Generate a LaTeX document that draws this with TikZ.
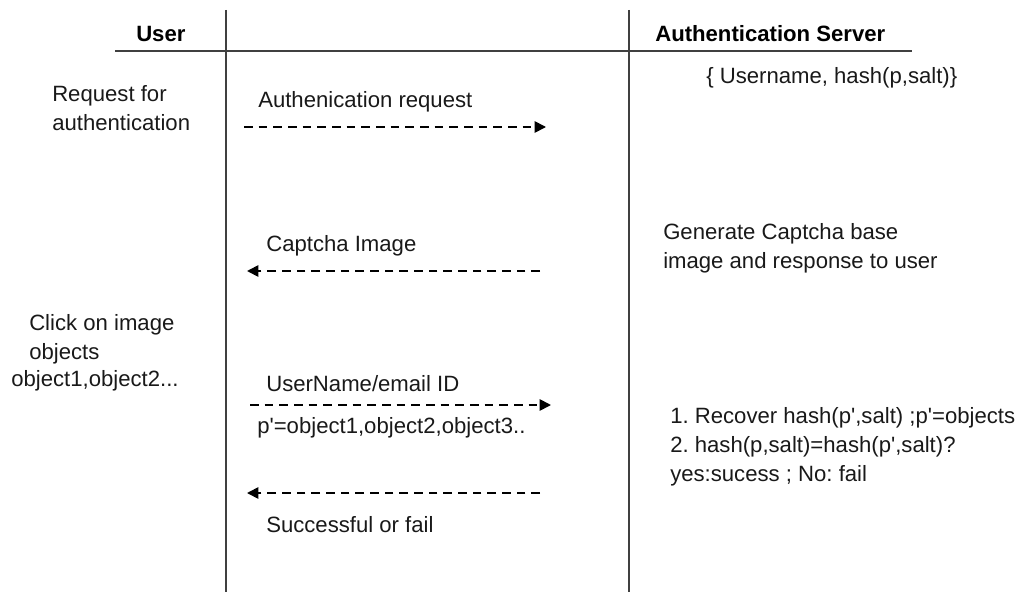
\documentclass[tikz,border=0pt]{standalone}
\usepackage{fontspec}
\setmainfont{Liberation Sans}[Ligatures=TeXOff]
\usetikzlibrary{arrows.meta}
\frenchspacing
\tikzset{
  txt/.style={anchor=base west, inner sep=0pt, font=\fontsize{16.6}{21.9}\selectfont, text=black!90},
  hdr/.style={anchor=base west, inner sep=0pt, font=\fontsize{16.6}{21.9}\selectfont\bfseries, text=black},
  lane/.style={draw=black!75, line width=1.2pt},
  msg/.style={draw=black, line width=1.3pt, dash pattern=on 6.5pt off 4.5pt, -{Triangle[length=8.5pt,width=8.5pt]}},
}
\begin{document}
\begin{tikzpicture}[x=0.75pt,y=-0.75pt]
\useasboundingbox (0,0) rectangle (1020,592);
% lanes
\coordinate (l1t) at (226,10); \coordinate (l1b) at (226,592);
\coordinate (l2t) at (629,10); \coordinate (l2b) at (629,592);
\coordinate (hl) at (115,51); \coordinate (hr) at (912,51);
\draw[lane] (l1t) -- (l1b);
\draw[lane] (l2t) -- (l2b);
\draw[lane, line width=1.5pt] (hl) -- (hr);
% headers
\node[hdr] (user) at (136,42) {User};
\node[hdr] (srv) at (655,42) {Authentication Server};
\node[txt] (db) at (706,84) {\{ Username, hash(p,salt)\}};
% left texts
\node[txt, align=left, anchor=north west] (req) at (52,85) {Request for\\authentication};
\node[txt, align=left, anchor=north west] (click) at (29,314) {Click on image\\objects};
\node[txt] (objs) at (11,386) {object1,object2...};
% right texts
\node[txt, align=left, anchor=north west] (gen) at (663,223) {Generate Captcha base\\image and response to user};
\node[txt, align=left, anchor=north west] (ver) at (670,407) {1. Recover hash(p',salt) ;p'=objects\\2. hash(p,salt)=hash(p',salt)?\\yes:sucess ; No: fail};
% messages
\node[txt] (m1) at (258,108) {Authenication request};
\coordinate (a1s) at (244,127); \coordinate (a1e) at (546,127);
\draw[msg] (a1s) -- (a1e);
\node[txt] (m2) at (266,251) {Captcha Image};
\coordinate (a2s) at (540,271); \coordinate (a2e) at (247,271);
\draw[msg] (a2s) -- (a2e);
\node[txt] (m3) at (266,391) {UserName/email ID};
\node[txt] (m3b) at (257,433) {p'=object1,object2,object3..};
\coordinate (a3s) at (250,405); \coordinate (a3e) at (551,405);
\draw[msg] (a3s) -- (a3e);
\coordinate (a4s) at (540,493); \coordinate (a4e) at (247,493);
\draw[msg] (a4s) -- (a4e);
\node[txt] (m4) at (266,532) {Successful or fail};
\end{tikzpicture}
\end{document}
